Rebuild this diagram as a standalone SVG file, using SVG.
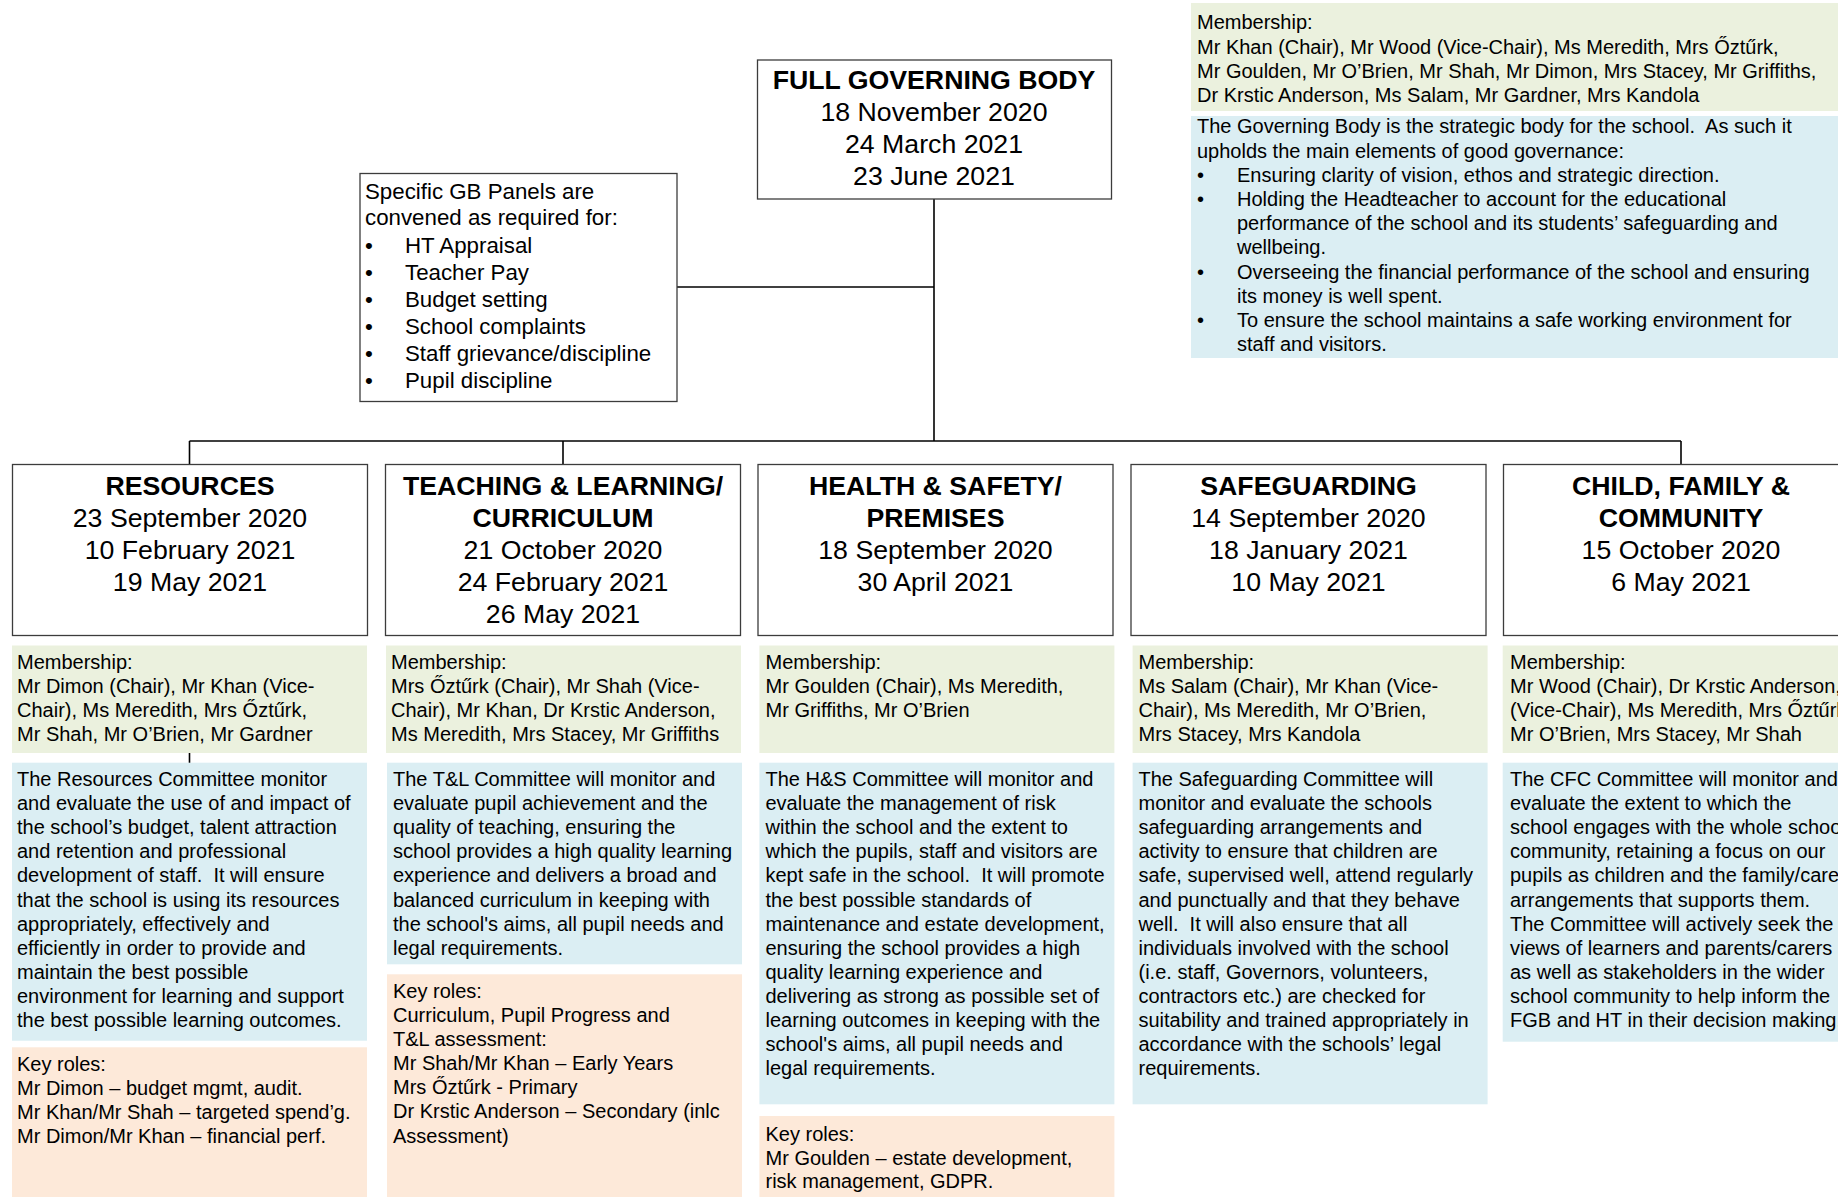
<svg xmlns="http://www.w3.org/2000/svg" width="1838" height="1197" viewBox="0 0 1838 1197">
<style>
text{font-family:"Liberation Sans",Arial,sans-serif;fill:#000}
.hd{font-size:26.7px;text-anchor:middle}
.b{font-weight:bold}
.tx{font-size:20px}
.pn{font-size:22.3px}
.box{fill:#fff;stroke:#3c3c3c;stroke-width:1.3}
.gr{fill:#EBF1DE}
.bl{fill:#DBEEF3}
.pc{fill:#FDE9D9}
.cn{fill:none;stroke:#000;stroke-width:1.6}
</style>
<rect width="1838" height="1197" fill="#fff"/>

<g id="connectors">
<line class="cn" x1="934" y1="199" x2="934" y2="441"/>
<line class="cn" x1="677" y1="287" x2="934" y2="287"/>
<line class="cn" x1="189.5" y1="441" x2="1681" y2="441"/>
<line class="cn" x1="189.5" y1="441" x2="189.5" y2="464.5"/>
<line class="cn" x1="563" y1="441" x2="563" y2="464.5"/>
<line class="cn" x1="1681" y1="441" x2="1681" y2="464.5"/>
<line class="cn" x1="189.5" y1="753" x2="189.5" y2="763"/>
</g>

<g id="fgb">
<rect class="box" x="757.5" y="60" width="354" height="139"/>
<text class="hd"><tspan class="b" x="934" y="89">FULL GOVERNING BODY</tspan><tspan x="934" y="121">18 November 2020</tspan><tspan x="934" y="153">24 March 2021</tspan><tspan x="934" y="185">23 June 2021</tspan></text>
</g>

<g id="fgb-info">
<rect class="gr" x="1191" y="3" width="647" height="108"/>
<text class="tx"><tspan x="1197" y="29.3">Membership:</tspan><tspan x="1197" y="53.5">Mr Khan (Chair), Mr Wood (Vice-Chair), Ms Meredith, Mrs Őztűrk,</tspan><tspan x="1197" y="77.7">Mr Goulden, Mr O’Brien, Mr Shah, Mr Dimon, Mrs Stacey, Mr Griffiths,</tspan><tspan x="1197" y="101.8">Dr Krstic Anderson, Ms Salam, Mr Gardner, Mrs Kandola</tspan></text>
<rect class="bl" x="1191" y="116" width="647" height="242"/>
<text class="tx"><tspan x="1197" y="133.3">The Governing Body is the strategic body for the school.&#160; As such it</tspan><tspan x="1197" y="157.5">upholds the main elements of good governance:</tspan><tspan x="1197" y="181.7">•</tspan><tspan x="1237" y="181.7">Ensuring clarity of vision, ethos and strategic direction.</tspan><tspan x="1197" y="205.9">•</tspan><tspan x="1237" y="205.9">Holding the Headteacher to account for the educational</tspan><tspan x="1237" y="230.1">performance of the school and its students’ safeguarding and</tspan><tspan x="1237" y="254.3">wellbeing.</tspan><tspan x="1197" y="278.5">•</tspan><tspan x="1237" y="278.5">Overseeing the financial performance of the school and ensuring</tspan><tspan x="1237" y="302.7">its money is well spent.</tspan><tspan x="1197" y="326.9">•</tspan><tspan x="1237" y="326.9">To ensure the school maintains a safe working environment for</tspan><tspan x="1237" y="351.1">staff and visitors.</tspan></text>
</g>

<g id="panels">
<rect class="box" x="360" y="173.5" width="317" height="228"/>
<text class="pn"><tspan x="365" y="199.3">Specific GB Panels are</tspan><tspan x="365" y="225.3">convened as required for:</tspan><tspan x="365" y="252.5">•</tspan><tspan x="405" y="252.5">HT Appraisal</tspan><tspan x="365" y="279.5">•</tspan><tspan x="405" y="279.5">Teacher Pay</tspan><tspan x="365" y="306.7">•</tspan><tspan x="405" y="306.7">Budget setting</tspan><tspan x="365" y="333.7">•</tspan><tspan x="405" y="333.7">School complaints</tspan><tspan x="365" y="360.8">•</tspan><tspan x="405" y="360.8">Staff grievance/discipline</tspan><tspan x="365" y="387.8">•</tspan><tspan x="405" y="387.8">Pupil discipline</tspan></text>
</g>

<g id="resources">
<rect class="box" x="12.5" y="464.5" width="355" height="171"/>
<text class="hd"><tspan class="b" x="190" y="495">RESOURCES</tspan><tspan x="190" y="527">23 September 2020</tspan><tspan x="190" y="559">10 February 2021</tspan><tspan x="190" y="591">19 May 2021</tspan></text>
<rect class="gr" x="12" y="645.5" width="355" height="107.5"/>
<text class="tx"><tspan x="17" y="669.3">Membership:</tspan><tspan x="17" y="693.3">Mr Dimon (Chair), Mr Khan (Vice-</tspan><tspan x="17" y="717.3">Chair), Ms Meredith, Mrs Őztűrk,</tspan><tspan x="17" y="741.3">Mr Shah, Mr O’Brien, Mr Gardner</tspan></text>
<rect class="bl" x="12" y="762.7" width="355" height="278"/>
<text class="tx"><tspan x="17" y="786">The Resources Committee monitor</tspan><tspan x="17" y="810.1">and evaluate the use of and impact of</tspan><tspan x="17" y="834.2">the school’s budget, talent attraction</tspan><tspan x="17" y="858.3">and retention and professional</tspan><tspan x="17" y="882.4">development of staff.&#160; It will ensure</tspan><tspan x="17" y="906.5">that the school is using its resources</tspan><tspan x="17" y="930.6">appropriately, effectively and</tspan><tspan x="17" y="954.7">efficiently in order to provide and</tspan><tspan x="17" y="978.8">maintain the best possible</tspan><tspan x="17" y="1002.9">environment for learning and support</tspan><tspan x="17" y="1027">the best possible learning outcomes.</tspan></text>
<rect class="pc" x="12" y="1047.3" width="355" height="150"/>
<text class="tx"><tspan x="17" y="1070.5">Key roles:</tspan><tspan x="17" y="1094.5">Mr Dimon – budget mgmt, audit.</tspan><tspan x="17" y="1118.5">Mr Khan/Mr Shah – targeted spend’g.</tspan><tspan x="17" y="1142.5">Mr Dimon/Mr Khan – financial perf.</tspan></text>
</g>

<g id="teaching-learning">
<rect class="box" x="385.5" y="464.5" width="355" height="171"/>
<text class="hd"><tspan class="b" x="563" y="495">TEACHING &amp; LEARNING/</tspan><tspan class="b" x="563" y="527">CURRICULUM</tspan><tspan x="563" y="559">21 October 2020</tspan><tspan x="563" y="591">24 February 2021</tspan><tspan x="563" y="623">26 May 2021</tspan></text>
<rect class="gr" x="386" y="645.5" width="355" height="107.5"/>
<text class="tx"><tspan x="391" y="669.3">Membership:</tspan><tspan x="391" y="693.3">Mrs Őztűrk (Chair), Mr Shah (Vice-</tspan><tspan x="391" y="717.3">Chair), Mr Khan, Dr Krstic Anderson,</tspan><tspan x="391" y="741.3">Ms Meredith, Mrs Stacey, Mr Griffiths</tspan></text>
<rect class="bl" x="387" y="762.7" width="355" height="201.6"/>
<text class="tx"><tspan x="393" y="786">The T&amp;L Committee will monitor and</tspan><tspan x="393" y="810.1">evaluate pupil achievement and the</tspan><tspan x="393" y="834.2">quality of teaching, ensuring the</tspan><tspan x="393" y="858.3">school provides a high quality learning</tspan><tspan x="393" y="882.4">experience and delivers a broad and</tspan><tspan x="393" y="906.5">balanced curriculum in keeping with</tspan><tspan x="393" y="930.6">the school's aims, all pupil needs and</tspan><tspan x="393" y="954.7">legal requirements.</tspan></text>
<rect class="pc" x="387" y="974.3" width="355" height="223"/>
<text class="tx"><tspan x="393" y="997.5">Key roles:</tspan><tspan x="393" y="1021.7">Curriculum, Pupil Progress and</tspan><tspan x="393" y="1045.8">T&amp;L assessment:</tspan><tspan x="393" y="1070">Mr Shah/Mr Khan – Early Years</tspan><tspan x="393" y="1094.2">Mrs Őztűrk - Primary</tspan><tspan x="393" y="1118.3">Dr Krstic Anderson – Secondary (inlc</tspan><tspan x="393" y="1142.5">Assessment)</tspan></text>
</g>

<g id="health-safety">
<rect class="box" x="758" y="464.5" width="355" height="171"/>
<text class="hd"><tspan class="b" x="935.5" y="495">HEALTH &amp; SAFETY/</tspan><tspan class="b" x="935.5" y="527">PREMISES</tspan><tspan x="935.5" y="559">18 September 2020</tspan><tspan x="935.5" y="591">30 April 2021</tspan></text>
<rect class="gr" x="759.4" y="645.5" width="355" height="107.5"/>
<text class="tx"><tspan x="765.5" y="669.3">Membership:</tspan><tspan x="765.5" y="693.3">Mr Goulden (Chair), Ms Meredith,</tspan><tspan x="765.5" y="717.3">Mr Griffiths, Mr O’Brien</tspan></text>
<rect class="bl" x="759.4" y="762.7" width="355" height="341.6"/>
<text class="tx"><tspan x="765.5" y="786">The H&amp;S Committee will monitor and</tspan><tspan x="765.5" y="810.1">evaluate the management of risk</tspan><tspan x="765.5" y="834.2">within the school and the extent to</tspan><tspan x="765.5" y="858.3">which the pupils, staff and visitors are</tspan><tspan x="765.5" y="882.4">kept safe in the school.&#160; It will promote</tspan><tspan x="765.5" y="906.5">the best possible standards of</tspan><tspan x="765.5" y="930.6">maintenance and estate development,</tspan><tspan x="765.5" y="954.7">ensuring the school provides a high</tspan><tspan x="765.5" y="978.8">quality learning experience and</tspan><tspan x="765.5" y="1002.9">delivering as strong as possible set of</tspan><tspan x="765.5" y="1027">learning outcomes in keeping with the</tspan><tspan x="765.5" y="1051.1">school's aims, all pupil needs and</tspan><tspan x="765.5" y="1075.2">legal requirements.</tspan></text>
<rect class="pc" x="759.4" y="1116" width="355" height="81"/>
<text class="tx"><tspan x="765.5" y="1140.7">Key roles:</tspan><tspan x="765.5" y="1164.5">Mr Goulden – estate development,</tspan><tspan x="765.5" y="1188.4">risk management, GDPR.</tspan></text>
</g>

<g id="safeguarding">
<rect class="box" x="1131" y="464.5" width="355" height="171"/>
<text class="hd"><tspan class="b" x="1308.5" y="495">SAFEGUARDING</tspan><tspan x="1308.5" y="527">14 September 2020</tspan><tspan x="1308.5" y="559">18 January 2021</tspan><tspan x="1308.5" y="591">10 May 2021</tspan></text>
<rect class="gr" x="1132.6" y="645.5" width="355" height="107.5"/>
<text class="tx"><tspan x="1138.5" y="669.3">Membership:</tspan><tspan x="1138.5" y="693.3">Ms Salam (Chair), Mr Khan (Vice-</tspan><tspan x="1138.5" y="717.3">Chair), Ms Meredith, Mr O’Brien,</tspan><tspan x="1138.5" y="741.3">Mrs Stacey, Mrs Kandola</tspan></text>
<rect class="bl" x="1132.6" y="762.7" width="355" height="341.6"/>
<text class="tx"><tspan x="1138.5" y="786">The Safeguarding Committee will</tspan><tspan x="1138.5" y="810.1">monitor and evaluate the schools</tspan><tspan x="1138.5" y="834.2">safeguarding arrangements and</tspan><tspan x="1138.5" y="858.3">activity to ensure that children are</tspan><tspan x="1138.5" y="882.4">safe, supervised well, attend regularly</tspan><tspan x="1138.5" y="906.5">and punctually and that they behave</tspan><tspan x="1138.5" y="930.6">well.&#160; It will also ensure that all</tspan><tspan x="1138.5" y="954.7">individuals involved with the school</tspan><tspan x="1138.5" y="978.8">(i.e. staff, Governors, volunteers,</tspan><tspan x="1138.5" y="1002.9">contractors etc.) are checked for</tspan><tspan x="1138.5" y="1027">suitability and trained appropriately in</tspan><tspan x="1138.5" y="1051.1">accordance with the schools’ legal</tspan><tspan x="1138.5" y="1075.2">requirements.</tspan></text>
</g>

<g id="child-family-community">
<rect class="box" x="1503.5" y="464.5" width="355" height="171"/>
<text class="hd"><tspan class="b" x="1681" y="495">CHILD, FAMILY &amp;</tspan><tspan class="b" x="1681" y="527">COMMUNITY</tspan><tspan x="1681" y="559">15 October 2020</tspan><tspan x="1681" y="591">6 May 2021</tspan></text>
<rect class="gr" x="1502.7" y="645.5" width="355" height="107.5"/>
<text class="tx"><tspan x="1510" y="669.3">Membership:</tspan><tspan x="1510" y="693.3">Mr Wood (Chair), Dr Krstic Anderson,</tspan><tspan x="1510" y="717.3">(Vice-Chair), Ms Meredith, Mrs Őztűrk,</tspan><tspan x="1510" y="741.3">Mr O’Brien, Mrs Stacey, Mr Shah</tspan></text>
<rect class="bl" x="1502.7" y="762.7" width="355" height="279"/>
<text class="tx"><tspan x="1510" y="786">The CFC Committee will monitor and</tspan><tspan x="1510" y="810.1">evaluate the extent to which the</tspan><tspan x="1510" y="834.2">school engages with the whole school</tspan><tspan x="1510" y="858.3">community, retaining a focus on our</tspan><tspan x="1510" y="882.4">pupils as children and the family/carer</tspan><tspan x="1510" y="906.5">arrangements that supports them.</tspan><tspan x="1510" y="930.6">The Committee will actively seek the</tspan><tspan x="1510" y="954.7">views of learners and parents/carers</tspan><tspan x="1510" y="978.8">as well as stakeholders in the wider</tspan><tspan x="1510" y="1002.9">school community to help inform the</tspan><tspan x="1510" y="1027">FGB and HT in their decision making.</tspan></text>
</g>
</svg>
